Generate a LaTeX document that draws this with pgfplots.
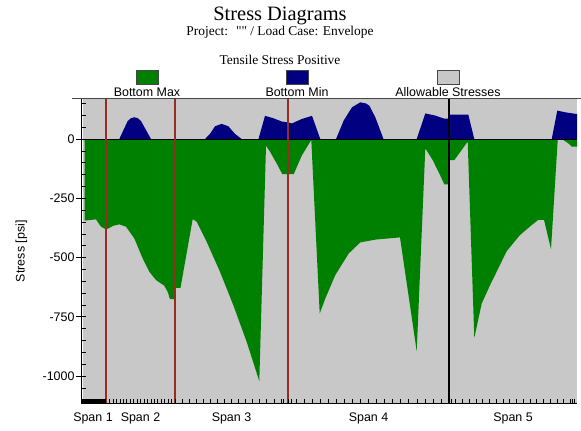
\documentclass[border=0pt]{standalone}
\usepackage{pgfplots}
\pgfplotsset{compat=1.18}
\usepackage{fontspec}
\setmainfont{Liberation Sans}
\newfontfamily\seriffont{Liberation Serif}
\definecolor{allowgray}{RGB}{200,200,200}
\definecolor{maxgreen}{RGB}{0,128,0}
\definecolor{minnavy}{RGB}{0,0,128}
\definecolor{spanred}{RGB}{150,45,35}
\definecolor{framegray}{RGB}{70,70,70}
\begin{document}
\begin{tikzpicture}
\path[use as bounding box] (0,0) rectangle (581bp,-431bp);
% titles
\node[anchor=base, inner sep=0] at (280bp,-20bp) {\seriffont\fontsize{20.5}{22}\selectfont Stress Diagrams};
\node[anchor=base, inner sep=0] at (280bp,-35.5bp) {\seriffont\fontsize{13.5}{15}\selectfont Project:~ "" / Load Case: Envelope};
\node[anchor=base, inner sep=0] at (280bp,-64bp) {\seriffont\fontsize{13.5}{15}\selectfont Tensile Stress Positive};
% legend
\draw[framegray, line width=0.8bp, fill=maxgreen] (136bp,-70bp) rectangle (158bp,-84bp);
\draw[framegray, line width=0.8bp, fill=minnavy] (286bp,-70bp) rectangle (308bp,-84bp);
\draw[framegray, line width=0.8bp, fill=allowgray] (437bp,-70bp) rectangle (459bp,-84bp);
\node[anchor=base, inner sep=0] at (147bp,-96.5bp) {\fontsize{12.5}{14}\selectfont Bottom Max};
\node[anchor=base, inner sep=0] at (297bp,-96.5bp) {\fontsize{12.5}{14}\selectfont Bottom Min};
\node[anchor=base, inner sep=0] at (448bp,-96.5bp) {\fontsize{12.5}{14}\selectfont Allowable Stresses};
\pgfplotstableread{
x y
106 -1116
106 169
}\spanA
\pgfplotstableread{
x y
175 -1116
175 169
}\spanB
\pgfplotstableread{
x y
288 -1116
288 169
}\spanC
\pgfplotstableread{
x y
449 -1116
449 169
}\spanD
\begin{axis}[
  at={(81bp,-403.5bp)}, anchor=south west,
  scale only axis, width=496bp, height=304.5bp,
  xmin=81, xmax=577, ymin=-1116, ymax=169,
  axis x line*=bottom, axis y line*=left,
  axis line style={black, line width=0.8bp},
  axis on top,
  tick align=inside,
  major tick length=9bp, minor tick length=4.5bp,
  every major y tick/.append style={xshift=-4.5bp},
  tick style={black, line width=0.6bp},
  ytick={-1000,-750,-500,-250,0},
  minor ytick={-1100,-1050,...,150},
  xtick={93,140.5,231.5,368.5,513},
  xticklabels={Span 1,Span 2,Span 3,Span 4,Span 5},
  every major x tick/.append style={draw=none},
  minor xtick={82,83,...,105,109.45,112.9,...,175,182.06,189.12,...,288,283.7,291.3,296.05,304.1,...,449,451.5,455.74,462.48,...,577,574,572},
  /pgf/number format/assume math mode=true,
  /pgf/number format/1000 sep={},
  ticklabel style={font=\fontsize{12.5}{14}\selectfont},
  yticklabel style={xshift=-3bp},
  xticklabel style={yshift=-6bp},
  ylabel={Stress [psi]},
  every axis y label/.style={at={(axis description cs:-0.12,0.5)}, rotate=90, anchor=center, font=\fontsize{12.5}{14}\selectfont},
]
% Allowable stresses (background envelope)
\addplot[fill=allowgray, draw=none] coordinates {(82.5,-1116) (82.5,169) (577,169) (577,-1116)} -- cycle;
% Bottom Max
\addplot[fill=maxgreen, draw=none] coordinates {
(84.5,0) (84.5,-344) (96,-339) (101,-370) (106,-381) (109,-376) (113.3,-366) (119.3,-360)
(126,-370) (134.3,-419) (142.7,-504) (149.3,-560) (156,-595) (164.3,-619) (167.7,-645)
(170,-676) (175,-676) (175.3,-628) (180.5,-628) (192.7,-338) (196.7,-349) (206.7,-434)
(220,-560) (233.3,-701) (246.7,-856) (259.3,-1022) (266,-28) (270,-53) (276.7,-103)
(282.3,-148) (293.7,-148) (302,-68) (311.3,-4) (319.7,-736) (325.3,-673) (335.3,-574)
(348.7,-483) (360.3,-436) (376,-424) (400,-415) (416.7,-895) (425.3,-39) (432.7,-89)
(439.3,-145) (444.3,-191) (449,-191) (449.5,-89) (454.3,-89) (467.7,-11) (474.3,-839)
(481.7,-694) (490,-617) (506.7,-473) (520,-405) (531.7,-363) (538.3,-341) (544,-341)
(551,-465) (557.7,-4) (563.3,-4) (568.3,-18) (571.7,-32) (577,-32) (577,0)} -- cycle;
% Bottom Min
\addplot[fill=minnavy, draw=none] coordinates {
(84.5,0) (119.3,0) (122.7,31) (127.7,76) (131,88) (134.3,92) (137.7,88) (141,76) (146,38) (151,0)
(205,0) (210,22) (215,54) (221.7,64) (228.3,54) (235,22) (241.7,0)
(258.5,0) (265,98) (273.3,88) (281.7,74) (288,70) (292,66) (302,85) (312,98) (320.3,0)
(336,0) (343.7,78) (352,134) (360.3,155) (366,150) (369.3,141) (375.3,92) (383.5,0)
(416.7,0) (425.3,108) (434.3,100) (444.3,86) (449,86) (449.5,103) (468.3,103) (474.3,0)
(551.7,0) (557.3,120) (565,113) (576,106) (577,106) (577,0)} -- cycle;
% zero line
\addplot[black, line width=1bp] coordinates {(81,0) (577,0)};
% span separators
\addplot[draw=spanred, line width=1.5bp] table {\spanA};
\addplot[draw=spanred, line width=1.5bp] table {\spanB};
\addplot[draw=spanred, line width=1.5bp] table {\spanC};
\addplot[draw=black, line width=1.1bp] table {\spanD};
\end{axis}
\draw[framegray, line width=0.8bp] (72bp,-98.7bp) -- (581bp,-98.7bp);
\end{tikzpicture}
\end{document}
